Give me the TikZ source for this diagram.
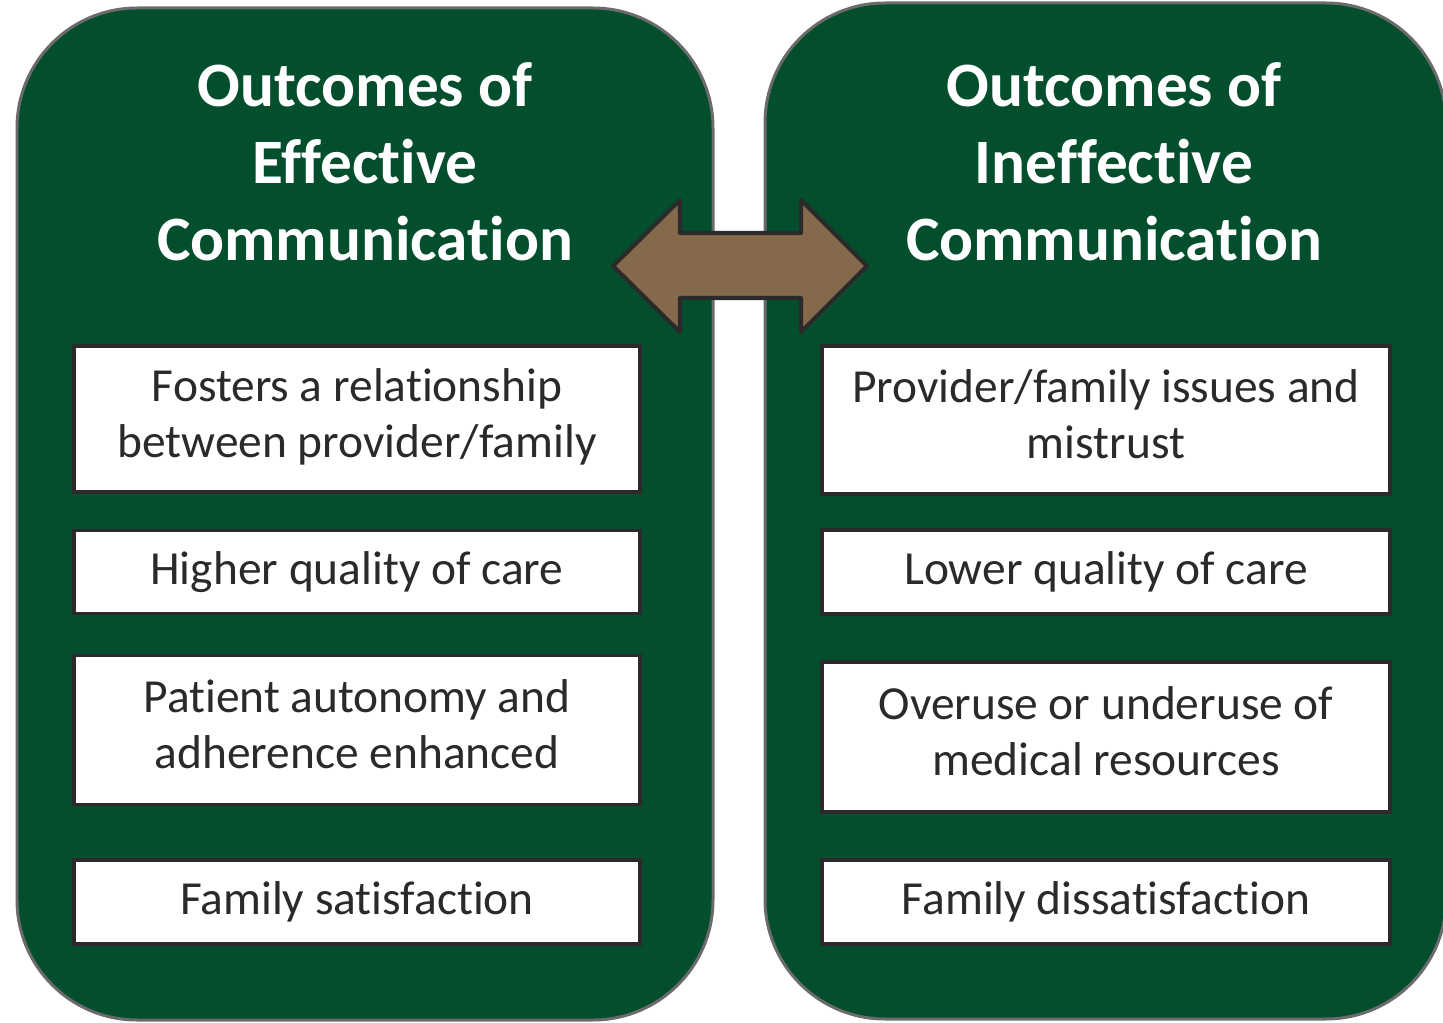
\documentclass[tikz,border=0pt]{standalone}
\usepackage{fontspec}
\setmainfont{Carlito}[Ligatures=NoCommon]
\definecolor{panelgreen}{HTML}{034E2C}
\definecolor{panelrim}{HTML}{6B6B6B}
\definecolor{arrowbrown}{HTML}{84694A}
\definecolor{inkgray}{HTML}{2A2A2A}
\begin{document}
\begin{tikzpicture}
	[x=0.02cm,y=-0.02cm,
	panel/.style={fill=panelgreen,draw=panelrim,line width=1.7pt,rounded corners=2.4cm},
	title/.style={text=white,font=\fontsize{36}{43.7}\selectfont\bfseries,align=center},
	outcome/.style={draw=inkgray,fill=white,line width=2.2pt,text=inkgray,
		font=\fontsize{27}{32}\selectfont,align=center,inner sep=0pt},
	twoline/.style={text height=51pt,text depth=7pt}]
	\useasboundingbox (0,0) rectangle (1443,1023);
	% the two panels
	\draw[panel] (17,8) rectangle (713,1020);
	\draw[panel] (765,3) rectangle (1446,1019);
	\node[title] (effTitle) at (365,162) {Outcomes of\\Effective\\Communication};
	\node[title] (ineffTitle) at (1114,162) {Outcomes of\\Ineffective\\Communication};
	% double arrow between the panels
	\filldraw[fill=arrowbrown,draw=inkgray,line width=2.3pt,line join=round]
		(613,266) -- (680,200) -- (680,233) -- (801,233) -- (801,200) -- (867,266)
		-- (801,332) -- (801,298) -- (680,298) -- (680,332) -- cycle;
	% effective side
	\node[outcome,twoline,minimum width=11.32cm,minimum height=2.92cm] (eff1) at (357,419)
		{Fosters a relationship\\between provider/family};
	\node[outcome,minimum width=11.32cm,minimum height=1.66cm] (eff2) at (357,572)
		{Higher quality of care};
	\node[outcome,twoline,minimum width=11.32cm,minimum height=2.98cm] (eff3) at (357,730)
		{Patient autonomy and\\adherence enhanced};
	\node[outcome,minimum width=11.32cm,minimum height=1.68cm] (eff4) at (357,902)
		{Family satisfaction};
	% ineffective side
	\node[outcome,twoline,minimum width=11.36cm,minimum height=2.96cm] (ineff1) at (1106,420)
		{Provider/family issues and\\mistrust};
	\node[outcome,minimum width=11.36cm,minimum height=1.68cm] (ineff2) at (1106,572)
		{Lower quality of care};
	\node[outcome,twoline,minimum width=11.36cm,minimum height=3.0cm] (ineff3) at (1106,737)
		{Overuse or underuse of\\medical resources};
	\node[outcome,minimum width=11.36cm,minimum height=1.68cm] (ineff4) at (1106,902)
		{Family dissatisfaction};
\end{tikzpicture}
\end{document}
